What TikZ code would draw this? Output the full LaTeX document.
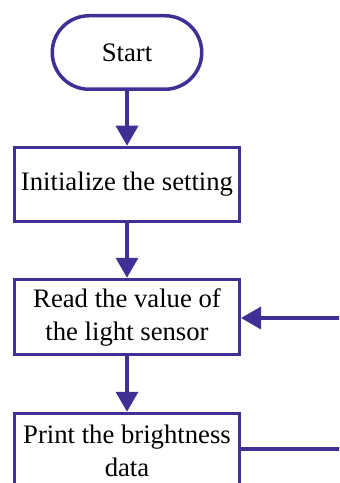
\documentclass[tikz,border=0pt]{standalone}
\usepackage{fontspec}
\setmainfont{Liberation Serif}
\usetikzlibrary{arrows.meta}
\definecolor{flowline}{RGB}{64,48,150}
\begin{document}
\begin{tikzpicture}[x=1bp,y=-1bp,
  every node/.style={font=\fontsize{26.7bp}{33bp}\selectfont, text=black},
  procbox/.style={draw=flowline, line width=3.5bp, fill=white, minimum width=224.5bp, minimum height=74bp, align=center, inner sep=0pt},
  termbox/.style={draw=flowline, line width=3.5bp, fill=white, minimum width=149.5bp, minimum height=73.5bp, rounded corners=36.75bp, inner sep=0pt},
  flow/.style={draw=flowline, line width=3.5bp, -{Triangle[length=20bp,width=22bp]}},
  plainline/.style={draw=flowline, line width=3.5bp}]
\useasboundingbox (0,0) rectangle (339,483);
\clip (0,0) rectangle (339,483);
\node[termbox] (start) at (127,52.5) {Start};
\node[procbox] (init) at (127,184.5) {Initialize the setting};
\node[procbox, minimum height=75bp] (read) at (127,317) {Read the value of\\the light sensor};
\node[procbox, minimum height=75bp] (print) at (127,451) {Print the brightness\\data};
\coordinate (inR) at (345,318);
\coordinate (outR) at (345,449);
\draw[flow] (start) -- (init);
\draw[flow] (init) -- (read);
\draw[flow] (read) -- (print);
\draw[flow] (inR) -- (inR -| read.east);
\draw[plainline] (print.east |- outR) -- (outR);
\end{tikzpicture}
\end{document}
